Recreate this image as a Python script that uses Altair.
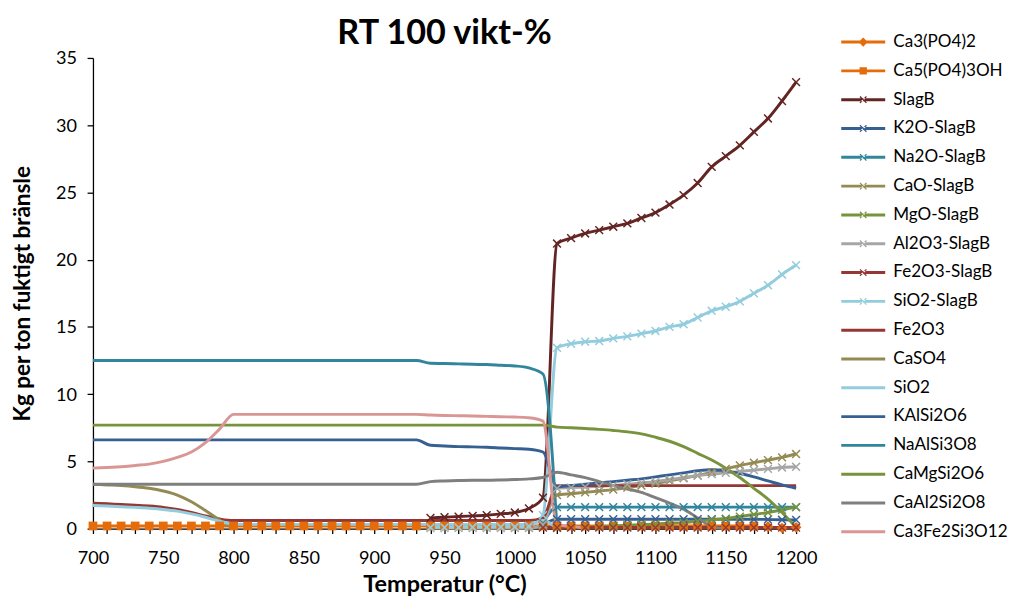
import altair as alt
import pandas as pd

N = None
temps = [700, 710, 720, 730, 740, 750, 760, 770, 780, 790,
         800, 810, 820, 830, 840, 850, 860, 870, 880, 890,
         900, 910, 920, 930, 940, 950, 960, 970, 980, 990,
         1000, 1010, 1020, 1030, 1040, 1050, 1060, 1070, 1080, 1090,
         1100, 1110, 1120, 1130, 1140, 1150, 1160, 1170, 1180, 1190, 1200]

ca3po4_2 = [N, N, N, N, N, N, N, N, N, N,
            N, N, N, N, N, N, N, N, N, N,
            N, N, N, N, N, N, N, N, N, N,
            N, N, N, N, N, N, N, N, N, N,
            N, N, N, N, N, N, N, N, 0.15, 0.05, 0.1]
ca5po43oh = [0.2, 0.2, 0.2, 0.2, 0.2, 0.2, 0.2, 0.2, 0.2, 0.2,
             0.2, 0.2, 0.2, 0.2, 0.2, 0.2, 0.2, 0.2, 0.2, 0.2,
             0.2, 0.2, 0.2, 0.2, 0.2, 0.2, 0.2, 0.2, 0.2, 0.2,
             0.2, 0.2, 0.2, 0.2, 0.2, 0.2, 0.2, 0.2, 0.2, 0.2,
             0.2, 0.2, 0.2, 0.2, 0.2, 0.2, 0.2, 0.2, N, N, N]
slagb = [N, N, N, N, N, N, N, N, N, N,
         N, N, N, N, N, N, N, N, N, N,
         N, N, N, N, 0.8, 0.85, 0.9, 0.95, 1.0, 1.1,
         1.2, 1.5, 2.3, 21.2, 21.6, 21.95, 22.2, 22.45, 22.7, 23.1,
         23.5, 24.1, 24.8, 25.7, 26.9, 27.7, 28.5, 29.5, 30.5, 31.8, 33.2]
k2o_slagb = [N, N, N, N, N, N, N, N, N, N,
             N, N, N, N, N, N, N, N, N, N,
             N, N, N, N, N, N, N, N, N, N,
             N, N, 0.3, 0.7, 0.7, 0.7, 0.7, 0.7, 0.7, 0.7,
             0.7, 0.7, 0.7, 0.7, 0.7, 0.7, 0.7, 0.7, 0.68, 0.66, 0.65]
na2o_slagb = [N, N, N, N, N, N, N, N, N, N,
              N, N, N, N, N, N, N, N, N, N,
              N, N, N, N, N, N, N, N, N, N,
              N, N, 0.4, 1.6, 1.6, 1.6, 1.6, 1.6, 1.6, 1.6,
              1.6, 1.6, 1.6, 1.6, 1.6, 1.6, 1.6, 1.6, 1.6, 1.6, 1.6]
cao_slagb = [N, N, N, N, N, N, N, N, N, N,
             N, N, N, N, N, N, N, N, N, N,
             N, N, N, N, N, N, N, N, N, N,
             N, N, 0.3, 2.5, 2.6, 2.7, 2.8, 2.9, 3.05, 3.2,
             3.35, 3.55, 3.75, 3.95, 4.2, 4.45, 4.7, 4.9, 5.1, 5.3, 5.55]
mgo_slagb = [N, N, N, N, N, N, N, N, N, N,
             N, N, N, N, N, N, N, N, N, N,
             N, N, N, N, N, N, N, N, N, N,
             N, N, N, 0.05, 0.1, 0.12, 0.15, 0.2, 0.25, 0.3,
             0.35, 0.4, 0.45, 0.55, 0.65, 0.75, 0.9, 1.05, 1.2, 1.4, 1.6]
al2o3_slagb = [N, N, N, N, N, N, N, N, N, N,
               N, N, N, N, N, N, N, N, N, N,
               N, N, N, N, 0.05, 0.05, 0.05, 0.05, 0.05, 0.05,
               0.05, 0.05, 0.3, 3.0, 3.05, 3.1, 3.15, 3.2, 3.3, 3.4,
               3.5, 3.65, 3.8, 3.95, 4.05, 4.15, 4.25, 4.35, 4.45, 4.55, 4.6]
fe2o3_slagb = [N, N, N, N, N, N, N, N, N, N,
               N, N, N, N, N, N, N, N, N, N,
               N, N, N, N, N, N, N, N, N, N,
               N, N, 0.08, 0.08, 0.08, 0.08, 0.08, 0.08, 0.08, 0.08,
               0.08, 0.08, 0.08, 0.08, 0.08, 0.08, 0.08, 0.08, 0.08, 0.08, 0.08]
sio2_slagb = [N, N, N, N, N, N, N, N, N, N,
              N, N, N, N, N, N, N, N, N, N,
              N, N, N, N, 0.1, 0.1, 0.1, 0.12, 0.12, 0.14,
              0.15, 0.2, 1.0, 13.45, 13.75, 13.9, 13.95, 14.15, 14.3, 14.5,
              14.7, 15.0, 15.2, 15.7, 16.2, 16.5, 16.9, 17.5, 18.1, 18.9, 19.6]
fe2o3 = [1.9, 1.85, 1.8, 1.75, 1.68, 1.58, 1.42, 1.2, 0.95, 0.72,
         0.6, 0.6, 0.6, 0.6, 0.6, 0.6, 0.6, 0.6, 0.6, 0.6,
         0.6, 0.6, 0.6, 0.6, 0.6, 0.6, 0.6, 0.6, 0.6, 0.6,
         0.6, 0.6, 0.8, 3.2, 3.2, 3.2, 3.2, 3.2, 3.2, 3.2,
         3.2, 3.2, 3.2, 3.2, 3.2, 3.2, 3.2, 3.2, 3.2, 3.2, 3.2]
caso4 = [3.3, 3.25, 3.2, 3.12, 3.0, 2.8, 2.5, 2.0, 1.35, 0.65,
         0.0, N, N, N, N, N, N, N, N, N,
         N, N, N, N, N, N, N, N, N, N,
         N, N, N, N, N, N, N, N, N, N,
         N, N, N, N, N, N, N, N, N, N, N]
sio2 = [1.72, 1.68, 1.63, 1.58, 1.52, 1.43, 1.3, 1.1, 0.85, 0.55,
        0.35, 0.32, 0.32, 0.32, 0.32, 0.32, 0.32, 0.32, 0.32, 0.32,
        0.32, 0.32, 0.32, 0.32, 0.32, 0.32, 0.32, 0.32, 0.32, 0.32,
        0.32, 0.32, 0.6, 0.0, N, N, N, N, N, N,
        N, N, N, N, N, N, N, N, N, N, N]
kalsi2o6 = [6.6, 6.6, 6.6, 6.6, 6.6, 6.6, 6.6, 6.6, 6.6, 6.6,
            6.6, 6.6, 6.6, 6.6, 6.6, 6.6, 6.6, 6.6, 6.6, 6.6,
            6.6, 6.6, 6.6, 6.6, 6.2, 6.15, 6.1, 6.08, 6.05, 6.0,
            5.95, 5.9, 5.7, 3.1, 3.2, 3.3, 3.4, 3.5, 3.6, 3.7,
            3.85, 4.0, 4.15, 4.3, 4.38, 4.3, 4.1, 3.85, 3.55, 3.25, 3.0]
naalsi3o8 = [12.5, 12.5, 12.5, 12.5, 12.5, 12.5, 12.5, 12.5, 12.5, 12.5,
             12.5, 12.5, 12.5, 12.5, 12.5, 12.5, 12.5, 12.5, 12.5, 12.5,
             12.5, 12.5, 12.5, 12.5, 12.3, 12.28, 12.25, 12.22, 12.2, 12.15,
             12.1, 11.95, 11.5, 0.0, N, N, N, N, N, N,
             N, N, N, N, N, N, N, N, N, N, N]
camgsi2o6 = [7.7, 7.7, 7.7, 7.7, 7.7, 7.7, 7.7, 7.7, 7.7, 7.7,
             7.7, 7.7, 7.7, 7.7, 7.7, 7.7, 7.7, 7.7, 7.7, 7.7,
             7.7, 7.7, 7.7, 7.7, 7.7, 7.7, 7.7, 7.7, 7.7, 7.7,
             7.7, 7.7, 7.7, 7.55, 7.5, 7.45, 7.38, 7.3, 7.2, 7.05,
             6.8, 6.5, 6.1, 5.6, 5.1, 4.5, 3.8, 3.0, 2.2, 1.2, 0.1]
caal2si2o8 = [3.3, 3.3, 3.3, 3.3, 3.3, 3.3, 3.3, 3.3, 3.3, 3.3,
              3.3, 3.3, 3.3, 3.3, 3.3, 3.3, 3.3, 3.3, 3.3, 3.3,
              3.3, 3.3, 3.3, 3.3, 3.5, 3.55, 3.58, 3.6, 3.6, 3.62,
              3.65, 3.7, 3.8, 4.2, 4.0, 3.8, 3.5, 3.2, 2.95, 2.7,
              2.3, 1.9, 1.45, 0.8, 0.15, 0.0, N, N, N, N, N]
ca3fe2si3o12 = [4.5, 4.55, 4.6, 4.7, 4.8, 5.0, 5.3, 5.7, 6.4, 7.4,
                8.5, 8.5, 8.5, 8.5, 8.5, 8.5, 8.5, 8.5, 8.5, 8.5,
                8.5, 8.5, 8.5, 8.5, 8.45, 8.42, 8.4, 8.38, 8.35, 8.32,
                8.3, 8.25, 8.0, 0.3, 0.15, 0.05, N, N, N, N,
                N, N, N, N, N, N, N, N, N, N, N]

names = ["Ca3(PO4)2", "Ca5(PO4)3OH", "SlagB", "K2O-SlagB", "Na2O-SlagB",
         "CaO-SlagB", "MgO-SlagB", "Al2O3-SlagB", "Fe2O3-SlagB", "SiO2-SlagB",
         "Fe2O3", "CaSO4", "SiO2", "KAlSi2O6", "NaAlSi3O8", "CaMgSi2O6",
         "CaAl2Si2O8", "Ca3Fe2Si3O12"]
series = [ca3po4_2, ca5po43oh, slagb, k2o_slagb, na2o_slagb, cao_slagb,
          mgo_slagb, al2o3_slagb, fe2o3_slagb, sio2_slagb, fe2o3, caso4, sio2,
          kalsi2o6, naalsi3o8, camgsi2o6, caal2si2o8, ca3fe2si3o12]
colors = ["#E46C0A", "#E46C0A", "#632523", "#376092", "#31859C",
          "#948A54", "#77933C", "#A6A6A6", "#953735", "#93CDDD",
          "#953735", "#948A54", "#93CDDD", "#376092", "#31859C", "#77933C",
          "#7F7F7F", "#DA9694"]
x_series = ["SlagB", "K2O-SlagB", "Na2O-SlagB", "CaO-SlagB", "MgO-SlagB",
            "Al2O3-SlagB", "Fe2O3-SlagB", "SiO2-SlagB"]
x_label_values = [700, 750, 800, 850, 900, 950, 1000, 1050, 1100, 1150, 1200]

rows = []
for i, (nm, vals) in enumerate(zip(names, series)):
    for t, v in zip(temps, vals):
        if v is not None:
            rows.append({"T": t, "v": v, "series": nm, "idx": i})
df = pd.DataFrame(rows)

FONT = "Lato"
# legend glyphs: a filled bar (line) plus a marker, all as filled shapes
LINE_P = "M-1,-0.2H5V0.2H-1Z"
X_P = (LINE_P + " M1.5,-0.38L1.62,-0.5L2.5,0.38L2.38,0.5Z"
       " M1.5,0.38L1.62,0.5L2.5,-0.38L2.38,-0.5Z")
SQ_P = LINE_P + " M1.5,-0.5H2.5V0.5H1.5Z"
DM_P = LINE_P + " M2,-0.62L2.62,0L2,0.62L1.38,0Z"
legend_shapes = []
for nm in names:
    if nm == "Ca3(PO4)2":
        legend_shapes.append(DM_P)
    elif nm == "Ca5(PO4)3OH":
        legend_shapes.append(SQ_P)
    elif nm in x_series:
        legend_shapes.append(X_P)
    else:
        legend_shapes.append(LINE_P)

color_scale = alt.Scale(domain=names, range=colors)

legend = alt.Legend(
    orient="none", legendX=765, legendY=-25, title=None,
    symbolSize=225, labelFont=FONT, labelFontSize=17.5,
    labelColor="black", labelOffset=37, rowPadding=10.5, labelLimit=300,
    symbolStrokeWidth=0, symbolOpacity=1,
)
cenc = alt.Color("series:N", scale=color_scale, legend=legend)

x_axis = alt.Axis(title="Temperatur (°C)", values=temps,
                  labelExpr="indexof(" + str(x_label_values) + ", datum.value) >= 0 ? datum.label : ''",
                  labelOverlap=False, labelFlush=False, format="d", grid=False,
                  tickSize=5, labelPadding=16, titlePadding=6)
xenc = alt.X("T:Q", scale=alt.Scale(domain=[700, 1200], nice=False, zero=False),
             axis=x_axis)
yenc = alt.Y("v:Q", scale=alt.Scale(domain=[0, 35], nice=False),
             axis=alt.Axis(title="Kg per ton fuktigt bränsle",
                           values=[0, 5, 10, 15, 20, 25, 30, 35], grid=False,
                           tickSize=6, labelPadding=11, titlePadding=22))

base = alt.Chart(df)
lines = base.mark_line(strokeWidth=3, interpolate="monotone").encode(
    x=xenc, y=yenc, color=cenc, order=alt.Order("T:Q"),
)
xpts = base.transform_filter(
    alt.FieldOneOfPredicate(field="series", oneOf=x_series)
).mark_point(shape="M-1,-1L1,1M-1,1L1,-1", filled=False, size=64,
             strokeWidth=1.5, opacity=1).encode(x=xenc, y=yenc, color=cenc)
sqpts = base.transform_filter(alt.datum.series == "Ca5(PO4)3OH").mark_point(
    shape="square", filled=True, size=80, opacity=1).encode(
    x=xenc, y=yenc, color=cenc)
dmpts = base.transform_filter(alt.datum.series == "Ca3(PO4)2").mark_point(
    shape="diamond", filled=True, size=120, opacity=1).encode(
    x=xenc, y=yenc, color=cenc)
legend_layer = base.transform_filter("false").mark_point(filled=True, opacity=1).encode(
    x=xenc, y=yenc, color=cenc,
    shape=alt.Shape("series:N", scale=alt.Scale(domain=names, range=legend_shapes),
                    legend=legend),
)

chart = alt.layer(lines, sqpts, dmpts, xpts, legend_layer).properties(
    width=720, height=482,
    title=alt.TitleParams("RT 100 vikt-%", fontSize=35, fontWeight="bold",
                          font=FONT, anchor="middle", frame="group",
                          offset=-18, color="black"),
    padding={"left": 3, "top": 2, "right": 0, "bottom": 0},
).configure_view(stroke=None).configure_axis(
    labelFont=FONT, labelFontSize=18.5, labelColor="black",
    titleFont=FONT, titleFontWeight="bold", titleColor="black",
    domainColor="black", tickColor="black", domainWidth=1.3, tickWidth=1.3,
).configure_axisX(titleFontSize=24, labelOverlap=False).configure_axisY(titleFontSize=23)

chart.save("out.html", embed_options={"renderer": "svg", "actions": False})
